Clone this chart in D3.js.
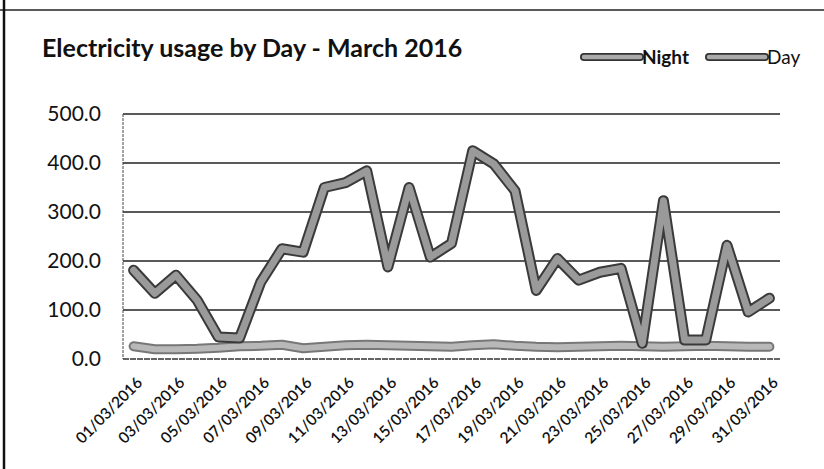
<!DOCTYPE html>
<html>
<head>
<meta charset="utf-8">
<script src="https://cdn.jsdelivr.net/npm/d3@7"></script>
<style>
  body { margin: 0; background: #fff; }
  svg { display: block; }
</style>
</head>
<body>
<div class="board"></div>
<script>
var W = 824, H = 469;
var margin = { top: 114, right: 44, bottom: 110, left: 123 };

// data
var days = d3.range(1, 32).map(function(d) { return (d < 10 ? '0' + d : '' + d) + '/03/2016'; });
var dayUsage = [181, 134, 171, 120, 45, 43, 157, 225, 218, 350, 360, 384, 188, 350, 208, 236,
                425, 398, 343, 140, 205, 161, 177, 185, 32, 323, 39, 39, 232, 96, 124];
var nightUsage = [26, 20, 20, 21, 23, 26, 27, 29, 22, 25, 28, 29, 28, 27, 26, 25,
                  28, 30, 27, 25, 24, 25, 26, 27, 26, 25, 26, 27, 26, 25, 25];
var yTicks = [0, 100, 200, 300, 400, 500];

var svg = d3.select('.board').append('svg')
            .attr('width', W)
            .attr('height', H);

// frame of the scanned page
svg.append('line').attr('x1', 0).attr('x2', W).attr('y1', 10).attr('y2', 10)
   .attr('stroke', '#222').attr('stroke-width', 1.5);
svg.append('line').attr('x1', 4).attr('x2', 4).attr('y1', 0).attr('y2', H)
   .attr('stroke', '#111').attr('stroke-width', 2.5);

var x = d3.scaleBand().domain(days).range([margin.left, W - margin.right]);
var y = d3.scaleLinear().domain([0, 500]).range([H - margin.bottom, margin.top]);

// gridlines
svg.append('g').selectAll('line')
   .data(yTicks.slice(1))
   .enter().append('line')
   .attr('x1', margin.left).attr('x2', W - margin.right)
   .attr('y1', function(d) { return y(d); }).attr('y2', function(d) { return y(d); })
   .attr('stroke', '#222').attr('stroke-width', 1.4);

// plot box (left + bottom, dotted from the scan)
svg.append('line').attr('x1', margin.left).attr('x2', margin.left)
   .attr('y1', y(500)).attr('y2', y(0))
   .attr('stroke', '#444').attr('stroke-width', 1).attr('stroke-dasharray', '3,1');
svg.append('line').attr('x1', margin.left).attr('x2', W - margin.right)
   .attr('y1', y(0)).attr('y2', y(0))
   .attr('stroke', '#333').attr('stroke-width', 1.4).attr('stroke-dasharray', '6,1');

// y axis labels
var yAxis = d3.axisLeft(y).tickValues(yTicks).tickSize(0).tickPadding(22)
              .tickFormat(d3.format('.1f'));
svg.append('g').attr('transform', 'translate(' + margin.left + ',0)')
   .call(yAxis)
   .call(function(g) { g.select('.domain').remove(); })
   .selectAll('text')
   .attr('font-family', 'Lato, "Open Sans", sans-serif')
   .attr('font-size', 21).attr('fill', '#111');

// x axis labels, every other day
var xAxis = d3.axisBottom(x)
              .tickValues(days.filter(function(d, i) { return i % 2 === 0; }))
              .tickSize(0).tickPadding(0);
svg.append('g').attr('transform', 'translate(2,' + (y(0) + 17) + ')')
   .call(xAxis)
   .call(function(g) { g.select('.domain').remove(); })
   .selectAll('text')
   .attr('font-family', 'Lato, "Open Sans", sans-serif')
   .attr('font-size', 15.5).attr('font-weight', 600).attr('fill', '#111')
   .attr('text-anchor', 'end').attr('dy', '0.7em')
   .attr('transform', 'rotate(-45)');

// lines
var line = function(vals) {
  return d3.line()
    .x(function(d, i) { return x(days[i]) + x.bandwidth() / 2; })
    .y(function(d) { return y(d); })(vals);
};

var series = [
  { name: 'Night', vals: nightUsage, fill: '#b8b8b8', edge: '#777', w: 10 },
  { name: 'Day', vals: dayUsage, fill: '#9a9a9a', edge: '#3a3a3a', w: 11 }
];

series.forEach(function(s) {
  svg.append('path').attr('d', line(s.vals))
     .attr('fill', 'none').attr('stroke', s.edge).attr('stroke-width', s.w)
     .attr('stroke-linejoin', 'round').attr('stroke-linecap', 'round');
  svg.append('path').attr('d', line(s.vals))
     .attr('fill', 'none').attr('stroke', s.fill).attr('stroke-width', s.w - 4)
     .attr('stroke-linejoin', 'round').attr('stroke-linecap', 'round');
});

// title
svg.append('text').attr('x', 42).attr('y', 57)
   .attr('font-family', 'Lato, "Open Sans", sans-serif')
   .attr('font-size', 25).attr('font-weight', 'bold').attr('fill', '#111')
   .text('Electricity usage by Day - March 2016');

// legend
var legend = [
  { name: 'Night', x0: 584, x1: 640, weight: 'bold', s: series[0] },
  { name: 'Day', x0: 709, x1: 765, weight: 'normal', s: series[1] }
];
legend.forEach(function(l) {
  svg.append('line').attr('x1', l.x0).attr('x2', l.x1).attr('y1', 57).attr('y2', 57)
     .attr('stroke', '#333').attr('stroke-width', 8).attr('stroke-linecap', 'round');
  svg.append('line').attr('x1', l.x0).attr('x2', l.x1).attr('y1', 57).attr('y2', 57)
     .attr('stroke', '#aaa').attr('stroke-width', 4.5).attr('stroke-linecap', 'round');
  svg.append('text').attr('x', l.x1 + 2).attr('y', 64)
     .attr('font-family', 'Lato, "Open Sans", sans-serif')
     .attr('font-size', 19).attr('font-weight', l.weight).attr('fill', '#111')
     .text(l.name);
});
</script>
</body>
</html>
